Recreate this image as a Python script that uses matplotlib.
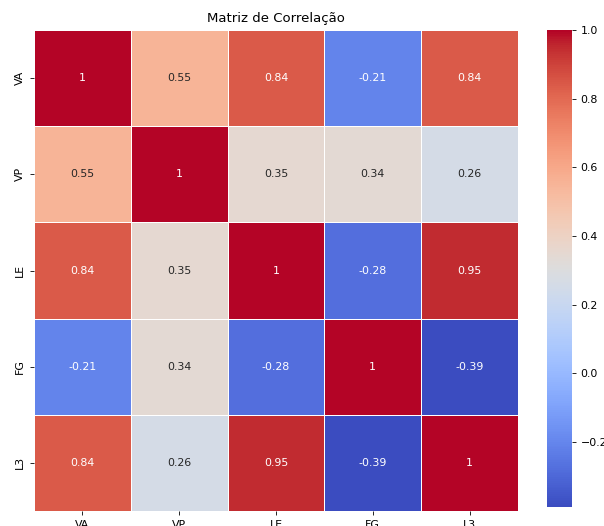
import numpy as np
import pandas as pd
import matplotlib
matplotlib.use("Agg")
import matplotlib.pyplot as plt
import seaborn as sns

# Variáveis e coeficientes de correlação
labels = ["VA", "VP", "LE", "FG", "L3"]
row_va = [1.00, 0.55, 0.84, -0.21, 0.84]
row_vp = [0.55, 1.00, 0.35, 0.34, 0.26]
row_le = [0.84, 0.35, 1.00, -0.28, 0.95]
row_fg = [-0.21, 0.34, -0.28, 1.00, -0.39]
row_l3 = [0.84, 0.26, 0.95, -0.39, 1.00]

corr = pd.DataFrame([row_va, row_vp, row_le, row_fg, row_l3],
                    index=labels, columns=labels)

plt.rcParams["xtick.labelsize"] = 7.9
plt.rcParams["ytick.labelsize"] = 7.9
plt.rcParams["xtick.major.size"] = 2.8
plt.rcParams["ytick.major.size"] = 2.8
plt.rcParams["xtick.major.width"] = 0.6
plt.rcParams["ytick.major.width"] = 0.6

fig = plt.figure(figsize=(6.04, 5.26), dpi=100)
ax = fig.add_axes([0.0563, 0.0285, 0.8013, 0.9144])
cax = fig.add_axes([0.9056, 0.0361, 0.0414, 0.9068])

sns.heatmap(corr, annot=True, annot_kws={"size": 7.9}, cmap="coolwarm",
            linewidths=0.5, linecolor="white", ax=ax, cbar_ax=cax)
ax.set_title("Matriz de Correlação", fontsize=9.5)

fig.savefig("out.png", dpi=100)
